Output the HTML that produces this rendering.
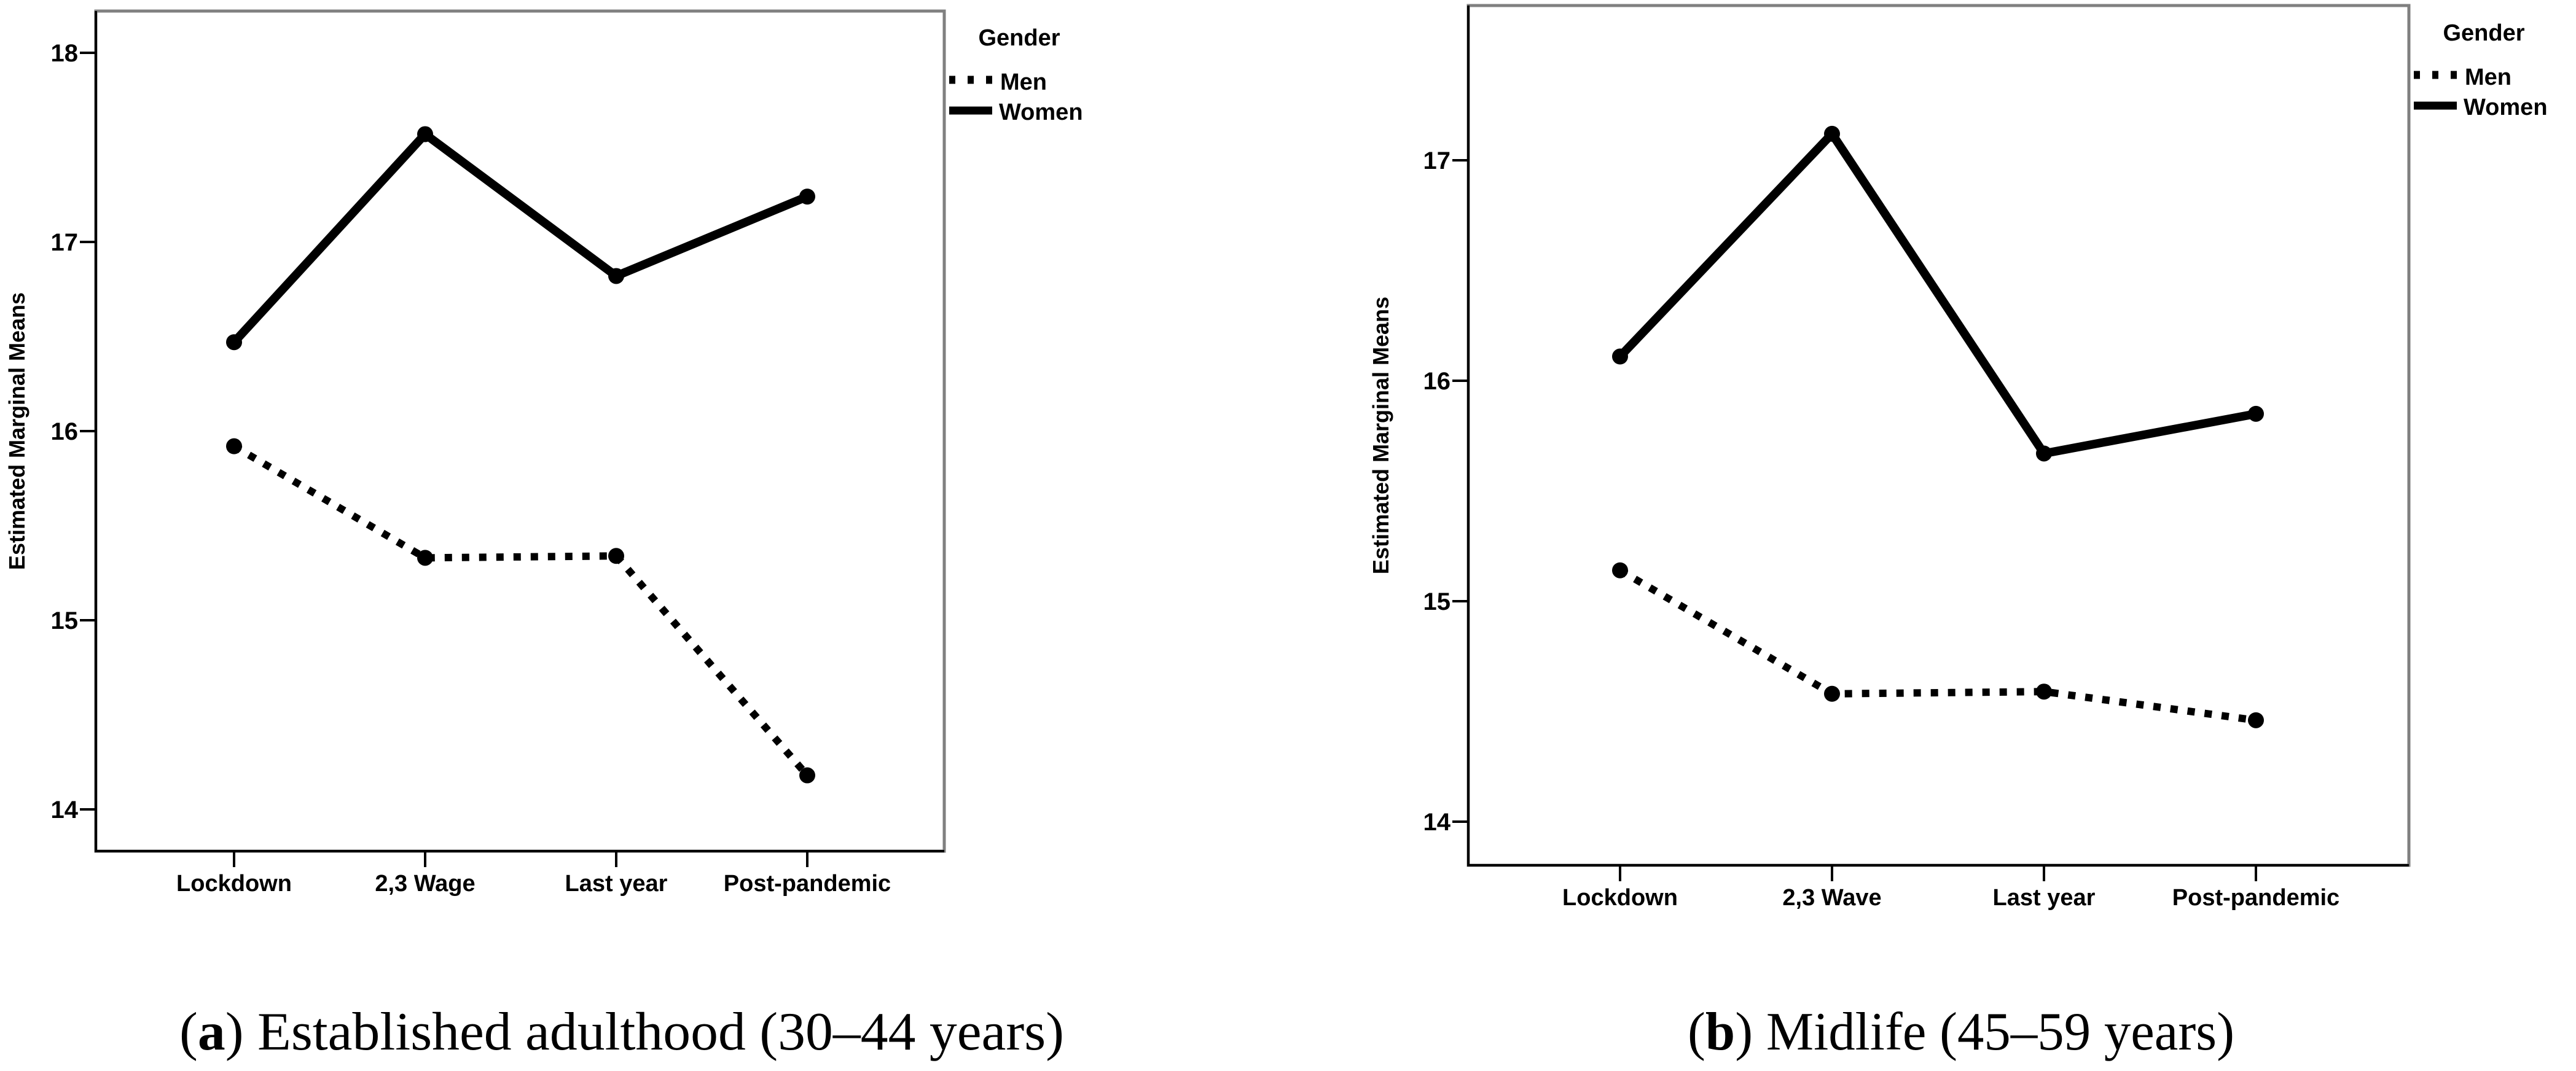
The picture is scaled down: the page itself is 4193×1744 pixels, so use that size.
<!DOCTYPE html>
<html><head><meta charset="utf-8"><style>
html,body{margin:0;padding:0;background:#fff;}
svg{display:block;}
text{font-family:"Liberation Sans",Arial,sans-serif;font-weight:bold;fill:#000;}
.cap{font-family:"Liberation Serif",serif;font-weight:normal;}
</style></head><body>
<svg id="fig" width="4193" height="1744" viewBox="0 0 4193 1744" xmlns="http://www.w3.org/2000/svg"></svg>
<script>
const categoriesA = ["Lockdown", "2,3 Wage", "Last year", "Post-pandemic"];
const womenA = [16.47, 17.57, 16.82, 17.24];
const menA = [15.92, 15.33, 15.34, 14.18];
const ticksA = [14, 15, 16, 17, 18];
const categoriesB = ["Lockdown", "2,3 Wave", "Last year", "Post-pandemic"];
const womenB = [16.11, 17.12, 15.67, 15.85];
const menB = [15.14, 14.58, 14.59, 14.46];
const ticksB = [14, 15, 16, 17];

const NS = "http://www.w3.org/2000/svg";
const svg = document.getElementById("fig");
function mk(tag, attrs, parent) {
  const e = document.createElementNS(NS, tag);
  for (const k in attrs) e.setAttribute(k, attrs[k]);
  (parent || svg).appendChild(e);
  return e;
}

function panel(cfg) {
  const g = mk("g", {});
  
  
  const yScale = v => cfg.y0px + (cfg.y0val - v) * cfg.unit;
  const xScale = i => cfg.x0 + i * cfg.xstep;
  const box = mk("rect", {x: cfg.left, y: cfg.top, width: cfg.right - cfg.left, height: cfg.bottom - cfg.top, fill: "none", stroke: "#808080", "stroke-width": 5}, g);
  
  
  const ax = mk("path", {d: `M${cfg.left},${cfg.top} L${cfg.left},${cfg.bottom} L${cfg.right},${cfg.bottom}`, fill: "none", stroke: "#000", "stroke-width": 4}, g);
  
  
  cfg.ticks.forEach(t => {
    const y = yScale(t);
    const tl = mk("line", {x1: cfg.left - 26, x2: cfg.left, y1: y, y2: y, stroke: "#000", "stroke-width": 4}, g);
    
    
    const tx = mk("text", {x: cfg.left - 29, y: y + 14, "text-anchor": "end", "font-size": 40}, g);
    tx.textContent = t;
    
    
  });
  cfg.cats.forEach((c, i) => {
    const x = xScale(i);
    const tl = mk("line", {x1: x, x2: x, y1: cfg.bottom, y2: cfg.bottom + 26, stroke: "#000", "stroke-width": 4}, g);
    
    
    const tx = mk("text", {x: x, y: cfg.bottom + 65, "text-anchor": "middle", "font-size": 38}, g);
    tx.textContent = c;
    
    
  });
  const yt = mk("text", {x: 0, y: 0, "text-anchor": "middle", "font-size": 36, transform: `translate(${cfg.ylabX},${(cfg.top + cfg.bottom) / 2}) rotate(-90)`}, g);
  yt.textContent = "Estimated Marginal Means";
  
  
  const ptsW = cfg.women.map((v, i) => xScale(i) + "," + yScale(v)).join(" ");
  const ptsM = cfg.men.map((v, i) => xScale(i) + "," + yScale(v)).join(" ");
  const lw = mk("polyline", {points: ptsW, fill: "none", stroke: "#000", "stroke-width": 14, "stroke-linejoin": "round"}, g);
  
  
  const lm = mk("polyline", {points: ptsM, fill: "none", stroke: "#000", "stroke-width": 12, "stroke-dasharray": "12,16"}, g);
  
  
  cfg.women.forEach((v, i) => {
    const c = mk("circle", {cx: xScale(i), cy: yScale(v), r: 13, fill: "#000"}, g);
    
    
  });
  cfg.men.forEach((v, i) => {
    const c = mk("circle", {cx: xScale(i), cy: yScale(v), r: 13, fill: "#000"}, g);
    
    
  });
  const lg = mk("g", {}, g);
  
  
  const gt = mk("text", {x: cfg.legX + 114, y: cfg.legY, "text-anchor": "middle", "font-size": 38}, lg);
  gt.textContent = "Gender";
  
  
  const m1 = mk("line", {x1: cfg.legX, x2: cfg.legX + 72, y1: cfg.legY + 56, y2: cfg.legY + 56, stroke: "#000", "stroke-width": 13, "stroke-dasharray": "10,20"}, lg);
  
  
  const mt = mk("text", {x: cfg.legX + 83, y: cfg.legY + 72, "font-size": 38}, lg);
  mt.textContent = "Men";
  
  
  const w1 = mk("line", {x1: cfg.legX, x2: cfg.legX + 70, y1: cfg.legY + 106, y2: cfg.legY + 106, stroke: "#000", "stroke-width": 13}, lg);
  
  
  const wt = mk("text", {x: cfg.legX + 81, y: cfg.legY + 121, "font-size": 38}, lg);
  wt.textContent = "Women";
  
  
  const cp = mk("text", {x: cfg.capX, y: 1709, "text-anchor": "middle", "font-size": 88, class: "cap", textLength: cfg.capW, lengthAdjust: "spacingAndGlyphs"}, g);
  cp.innerHTML = `(<tspan font-weight="bold" style="font-weight:bold">${cfg.letter}</tspan>) ${cfg.caption}`;
  
  
}

panel({name: "chart-a", cats: categoriesA, women: womenA, men: menA, ticks: ticksA,
  left: 156, right: 1537, top: 18, bottom: 1386, y0px: 86, y0val: 18, unit: 308,
  x0: 381, xstep: 311, ylabX: 40, legX: 1545, legY: 74,
  capX: 1012, capW: 1440, letter: "a", caption: "Established adulthood (30–44 years)"});
panel({name: "chart-b", cats: categoriesB, women: womenB, men: menB, ticks: ticksB,
  left: 2390, right: 3921, top: 9, bottom: 1409, y0px: 261, y0val: 17, unit: 359,
  x0: 2637, xstep: 345, ylabX: 2260, legX: 3929, legY: 66,
  capX: 3192, capW: 890, letter: "b", caption: "Midlife (45–59 years)"});
</script>
</body></html>
